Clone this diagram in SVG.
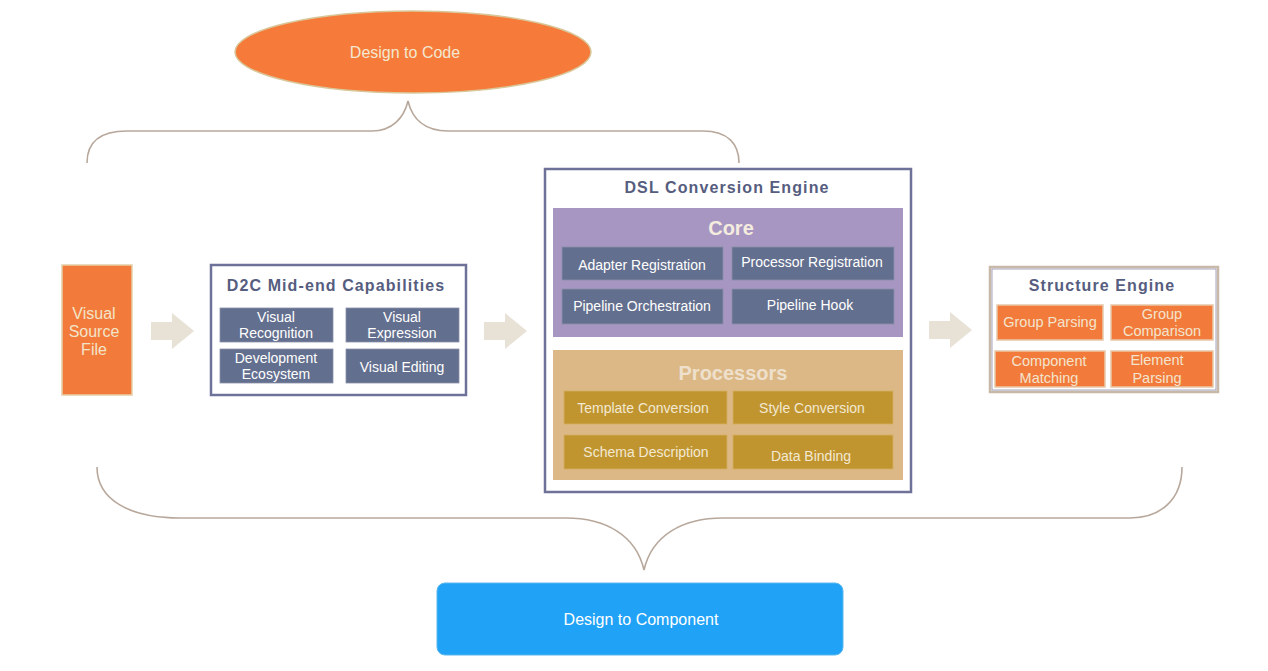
<svg xmlns="http://www.w3.org/2000/svg" width="1268" height="671" viewBox="0 0 1268 671">
<style>
text{font-family:"Liberation Sans",Arial,sans-serif;text-anchor:middle;dominant-baseline:central}
.brace{fill:none;stroke:#b8a89c;stroke-width:1.6}
.arrow{fill:#e8e1d6}
.frame{fill:#ffffff;stroke:#6e7299;stroke-width:2.5}
.ttl{font-weight:bold;font-size:16px;fill:#565d7f;letter-spacing:1.1px}
.slate{fill:#636f8e;stroke:#8a90a8;stroke-width:0.8}
.slt{font-size:14px;fill:#ffffff}
.gold{fill:#c09530;stroke:#d4b060;stroke-width:0.8}
.gdt{font-size:14px;fill:#f3e8d2}
.org{fill:#f27b3c;stroke:#e8c8a8;stroke-width:1.5}
.ort{font-size:14.5px;fill:#f3e4cc}
</style>
<g id="connectors">
<path class="brace" d="M87,163 C87,142 100,131 127,131 L372,131 C392,131 404,118 408,101 C412,118 424,131 448,131 L703,131 C728,131 739,144 739,163"/>
<path class="brace" d="M97,467 C97,500 130,518 180,518 L566,518 C605,518 636,535 644,570 C652,535 683,518 723,518 L1130,518 C1160,518 1182,500 1182,467"/>
<path class="arrow" d="M151,322 L172,322 L172,313 L194,331 L172,349 L172,340 L151,340 Z"/>
<path class="arrow" d="M484,322 L505,322 L505,313 L527,331 L505,349 L505,340 L484,340 Z"/>
<path class="arrow" d="M929,321 L950,321 L950,312 L972,330 L950,348 L950,339 L929,339 Z"/>
</g>
<g id="design-to-code">
<ellipse cx="413" cy="52" rx="178" ry="41" fill="#f67b3b" stroke="#d9c79a" stroke-width="1.5"/>
<text x="405" y="52" font-size="16" fill="#f3e8cf">Design to Code</text>
</g>
<g id="visual-source-file">
<rect x="62" y="265" width="70" height="130" fill="#f27b3c" stroke="#e5cfa8" stroke-width="1.5"/>
<text x="94" y="313" font-size="16" fill="#f3e4c8">Visual</text>
<text x="94" y="331" font-size="16" fill="#f3e4c8">Source</text>
<text x="94" y="349" font-size="16" fill="#f3e4c8">File</text>
</g>
<g id="d2c-mid-end">
<rect class="frame" x="211" y="265" width="255" height="130"/>
<text class="ttl" x="336" y="285">D2C Mid-end Capabilities</text>
<rect class="slate" x="220" y="308" width="113" height="34"/>
<text class="slt" x="276" y="317">Visual</text>
<text class="slt" x="276" y="333">Recognition</text>
<rect class="slate" x="346" y="308" width="113" height="34"/>
<text class="slt" x="402" y="317">Visual</text>
<text class="slt" x="402" y="333">Expression</text>
<rect class="slate" x="220" y="349" width="113" height="34"/>
<text class="slt" x="276" y="358">Development</text>
<text class="slt" x="276" y="374">Ecosystem</text>
<rect class="slate" x="346" y="349" width="113" height="34"/>
<text class="slt" x="402" y="367">Visual Editing</text>
</g>
<g id="dsl-conversion-engine">
<rect class="frame" x="545" y="169" width="366" height="323"/>
<text class="ttl" x="727" y="187">DSL Conversion Engine</text>
<g id="core">
<rect x="553" y="208" width="350" height="129" fill="#a796c2"/>
<text x="731" y="228" font-size="20" font-weight="bold" fill="#f4ecdf">Core</text>
<rect class="slate" x="562" y="247" width="161" height="33"/>
<text class="slt" x="642" y="265">Adapter Registration</text>
<rect class="slate" x="732" y="247" width="162" height="33"/>
<text class="slt" x="812" y="262">Processor Registration</text>
<rect class="slate" x="562" y="289" width="161" height="35"/>
<text class="slt" x="642" y="306">Pipeline Orchestration</text>
<rect class="slate" x="732" y="289" width="162" height="35"/>
<text class="slt" x="810" y="305">Pipeline Hook</text>
</g>
<g id="processors">
<rect x="553" y="350" width="350" height="130" fill="#dcb886"/>
<text x="733" y="373" font-size="20" font-weight="bold" fill="#eee0cc">Processors</text>
<rect class="gold" x="564" y="391" width="163" height="33"/>
<text class="gdt" x="643" y="408">Template Conversion</text>
<rect class="gold" x="733" y="391" width="160" height="33"/>
<text class="gdt" x="812" y="408">Style Conversion</text>
<rect class="gold" x="564" y="435" width="163" height="34"/>
<text class="gdt" x="646" y="452">Schema Description</text>
<rect class="gold" x="733" y="435" width="160" height="34"/>
<text class="gdt" x="811" y="456">Data Binding</text>
</g>
</g>
<g id="structure-engine">
<rect x="990" y="267" width="228" height="125" fill="#ffffff" stroke="#c8b8a8" stroke-width="2.5"/>
<rect x="992" y="269" width="224" height="121" fill="none" stroke="#8f8fb0" stroke-width="0.8"/>
<text class="ttl" x="1102" y="285">Structure Engine</text>
<rect class="org" x="997" y="305" width="106" height="35"/>
<text class="ort" x="1050" y="322">Group Parsing</text>
<rect class="org" x="1111" y="305" width="102" height="35"/>
<text class="ort" x="1162" y="314">Group</text>
<text class="ort" x="1162" y="331">Comparison</text>
<rect class="org" x="995" y="351" width="110" height="36"/>
<text class="ort" x="1049" y="361">Component</text>
<text class="ort" x="1049" y="378">Matching</text>
<rect class="org" x="1111" y="351" width="102" height="36"/>
<text class="ort" x="1157" y="360">Element</text>
<text class="ort" x="1157" y="378">Parsing</text>
</g>
<g id="design-to-component">
<rect x="437" y="583" width="406" height="72" rx="8" fill="#20a2f6" stroke="#5ab8f0" stroke-width="1"/>
<text x="641" y="619" font-size="16" fill="#ffffff">Design to Component</text>
</g>
</svg>
